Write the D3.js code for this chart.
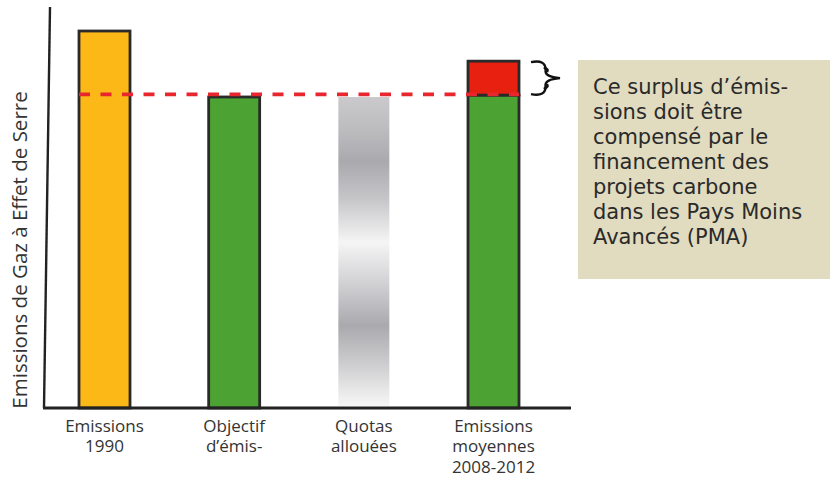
<!DOCTYPE html>
<html><head><meta charset="utf-8">
<script src="https://cdn.jsdelivr.net/npm/d3@7"></script>
<style>
html,body{margin:0;padding:0;background:#fff;}
svg{display:block;}
</style></head>
<body>
<svg id="c" width="830" height="478"></svg>
<script>
// ---- data ----
const categories = ["Emissions 1990", "Objectif d’émis-", "Quotas allouées", "Emissions moyennes 2008-2012"];
const categoryLines = [["Emissions","1990"],["Objectif","d’émis-"],["Quotas","allouées"],["Emissions","moyennes","2008-2012"]];
const baseValues = [100, 82.5, 82.5, 83];   // index, 1990 = 100
const surplusValues = [0, 0, 0, 9];
const barKinds = ["orange", "green", "quota", "green"];
const targetValue = 83.2;
const yAxisTitle = "Emissions de Gaz à Effet de Serre";
const noteLines = ["Ce surplus d’émis-","sions doit être","compensé par le","financement des","projets carbone","dans les Pays Moins","Avancés (PMA)"];

// ---- drawing ----
const svg = d3.select("#c");
const y = d3.scaleLinear().domain([0, 100]).range([408, 31]);
const x = d3.scalePoint().domain(categories).range([104.5, 493.5]);
const barW = 51;
const colors = {orange:"#FBB817", green:"#4CA333", red:"#E8200F", stroke:"#2a2a2a"};

// gradient for quotas
const defs = svg.append("defs");
const g = defs.append("linearGradient").attr("id","quota").attr("x1",0).attr("y1",0).attr("x2",0).attr("y2",1);
[[0,"#cacacc"],[0.1,"#bdbcbf"],[0.21,"#aaa9ad"],[0.33,"#c6c5c8"],[0.47,"#f5f5f5"],[0.6,"#d2d1d4"],[0.74,"#aaa9ad"],[0.87,"#cfcfd1"],[1,"#f7f7f7"]]
  .forEach(([o,c]) => g.append("stop").attr("offset",o).attr("stop-color",c));

// bars
categories.forEach((cat, i) => {
  const cx = x(cat);
  const kind = barKinds[i];
  if (kind === "quota") {
    svg.append("rect").attr("x", cx - barW/2).attr("y", y(baseValues[i]))
      .attr("width", barW).attr("height", y(0) - y(baseValues[i]) - 2)
      .attr("fill", "url(#quota)");
  } else {
    svg.append("rect").attr("x", cx - barW/2).attr("y", y(baseValues[i]))
      .attr("width", barW).attr("height", y(0) - y(baseValues[i]))
      .attr("fill", colors[kind]).attr("stroke", colors.stroke).attr("stroke-width", 2.8);
    if (surplusValues[i] > 0) {
      const top = baseValues[i] + surplusValues[i];
      svg.append("rect").attr("x", cx - barW/2).attr("y", y(top))
        .attr("width", barW).attr("height", y(baseValues[i]) - y(top))
        .attr("fill", colors.red).attr("stroke", colors.stroke).attr("stroke-width", 2.8);
    }
  }
});

// dashed target line
svg.append("line")
  .attr("x1", x(categories[0]) - barW/2).attr("x2", x(categories[3]) + barW/2)
  .attr("y1", y(targetValue)).attr("y2", y(targetValue))
  .attr("stroke", "#E8262E").attr("stroke-width", 3.6).attr("stroke-dasharray", "11,10.5");

// axes
svg.append("line").attr("x1", 50).attr("y1", 7).attr("x2", 44).attr("y2", y(0))
  .attr("stroke", "#222").attr("stroke-width", 2.4);
svg.append("line").attr("x1", 43).attr("y1", y(0)).attr("x2", 571).attr("y2", y(0))
  .attr("stroke", "#222").attr("stroke-width", 2.8);

// category labels
categories.forEach((cat, i) => {
  const t = svg.append("text").attr("text-anchor","middle")
    .attr("font-family","'Open Sans', sans-serif").attr("font-size",17).attr("fill","#333");
  categoryLines[i].forEach((ln, k) => {
    t.append("tspan").attr("x", x(cat)).attr("y", 431.5 + k*20.8).text(ln);
  });
});

// y-axis title
svg.append("text")
  .attr("transform", `translate(27,${(y(0)+92)/2}) rotate(-90)`)
  .attr("text-anchor","middle")
  .attr("font-family","'Open Sans', sans-serif").attr("font-size",20.5).attr("fill","#333")
  .text(yAxisTitle);

// brace (calligraphic, filled)
const by0 = y(baseValues[3] + surplusValues[3]) , by1 = y(baseValues[3]);
const bm = (by0 + by1)/2;
svg.append("path")
  .attr("d", `M531,${by0+1} C541,${by0-1} 546,${by0+2} 545.5,${bm-8} C545,${bm-3} 550,${bm-1} 560,${bm}
              C550,${bm+1} 545,${bm+3} 545.5,${bm+8} C546,${by1-2} 541,${by1+1} 531,${by1-1}`)
  .attr("fill","none").attr("stroke","#111").attr("stroke-width",2.4);
svg.append("path")
  .attr("d", `M544,${by0+6} C548,${by0+9} 548,${bm-9} 547,${bm-6} M544,${by1-6} C548,${by1-9} 548,${bm+9} 547,${bm+6}`)
  .attr("fill","none").attr("stroke","#111").attr("stroke-width",2.6);

// note box
svg.append("rect").attr("x",578).attr("y",60).attr("width",252).attr("height",219).attr("fill","#E1DBBF");
const nt = svg.append("text").attr("font-family","'DejaVu Sans', sans-serif").attr("font-size",21).attr("fill","#2a2a2a");
noteLines.forEach((ln,k) => nt.append("tspan").attr("x",593).attr("y",94 + k*25).text(ln));
</script>
</body></html>
